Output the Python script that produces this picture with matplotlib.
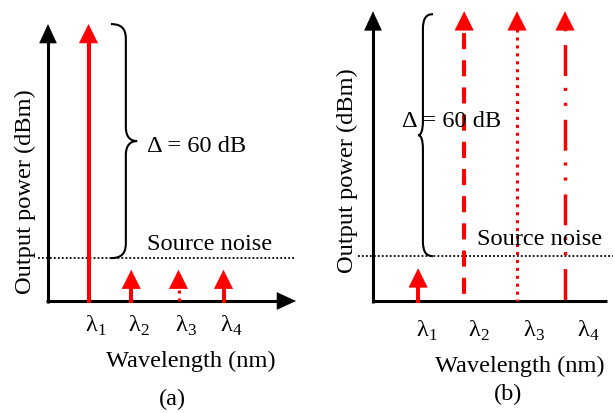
import matplotlib
matplotlib.use('Agg')
import matplotlib.pyplot as plt
from matplotlib.path import Path
from matplotlib.patches import PathPatch

plt.rcParams['font.family'] = 'Liberation Serif'
plt.rcParams['mathtext.fontset'] = 'custom'
plt.rcParams['mathtext.rm'] = 'Liberation Serif'

##################################################################
# Data: channel positions (slot units) and power levels (dB above baseline)

channel_labels = ['λ$_\\mathrm{1}$', 'λ$_\\mathrm{2}$', 'λ$_\\mathrm{3}$', 'λ$_\\mathrm{4}$']
a_wavelength = [0.9, 1.85, 2.9, 3.9]
a_power = [71, 8, 8, 8]
b_wavelength = [0.94, 1.9, 3.0, 4.0]
b_power = [8, 71, 71, 71]
noise_level = 11
peak_level = 71
delta_text = 'Δ = 60 dB'

# line styles of the channel stems
a_styles = ['-', '-', (0, (1, 1.6)), '-']
a_widths = [2.9, 2.9, 2.2, 2.9]
b_styles = ['-', (5.75, (4, 2.75)), (0, (1, 1.6)),
            (17, (8.9, 3.4, 0.9, 3.4, 0.9, 4.0))]
b_widths = [2.9, 2.9, 2.2, 2.5]

W, H, DPI = 613, 414, 100
FS = 17.6
RED = '#ff0000'
HEAD_PX = 18

fig = plt.figure(figsize=(W / DPI, H / DPI), dpi=DPI)


def panel_axes(x0_px, y0_px, px_per_x, px_per_db):
    # axes covering the whole figure, origin of the panel at (x0_px, y0_px)
    ax = fig.add_axes([0, 0, 1, 1])
    ax.set_xlim(-x0_px / px_per_x, (W - x0_px) / px_per_x)
    ax.set_ylim((y0_px - H) / px_per_db, y0_px / px_per_db)
    ax.set_facecolor('none')
    ax.axis('off')
    return ax


def head(ax, tail, tip, color, hw=0.65):
    ax.annotate('', xy=tip, xytext=tail,
                arrowprops=dict(arrowstyle=f'-|>,head_length=1.3,head_width={hw}',
                                mutation_scale=10, color=color, lw=0.5,
                                shrinkA=0, shrinkB=0))


def brace(ax, x_end, x_mid, x_tip, y_bot, y_top, r, rt):
    y_mid = (y_bot + y_top) / 2
    dx = x_mid - x_end
    dt = x_tip - x_mid
    verts = [(x_end, y_top),
             (x_end + 0.7 * dx, y_top), (x_mid, y_top - 0.3 * r), (x_mid, y_top - r),
             (x_mid, y_mid + rt),
             (x_mid, y_mid + 0.3 * rt), (x_mid + 0.4 * dt, y_mid), (x_tip, y_mid),
             (x_mid + 0.4 * dt, y_mid), (x_mid, y_mid - 0.3 * rt), (x_mid, y_mid - rt),
             (x_mid, y_bot + r),
             (x_mid, y_bot + 0.3 * r), (x_end + 0.7 * dx, y_bot), (x_end, y_bot)]
    codes = ([Path.MOVETO] + [Path.CURVE4] * 3 + [Path.LINETO] + [Path.CURVE4] * 6
             + [Path.LINETO] + [Path.CURVE4] * 3)
    ax.add_patch(PathPatch(Path(verts, codes), fill=False, lw=1.5, color='black'))


def draw_panel(ax, wl, power, styles, widths, px_per_x, px_per_db, x_tip,
               noise_x, from_top):
    hl_y = HEAD_PX / px_per_db
    hl_x = HEAD_PX / px_per_x
    # axes with arrow heads
    ax.plot([0, 0], [-1.5 / px_per_db, peak_level - hl_y], color='black', lw=2.2,
            solid_capstyle='butt')
    head(ax, (0, peak_level - hl_y), (0, peak_level), 'black', hw=0.6)
    ax.plot([-1.5 / px_per_x, x_tip - hl_x], [0, 0], color='black', lw=2.2,
            solid_capstyle='butt')
    head(ax, (x_tip - hl_x, 0), (x_tip, 0), 'black', hw=0.6)
    # source noise floor
    ax.plot(noise_x, [noise_level, noise_level], color='black', lw=1.3,
            linestyle=(0, (1, 1.2)))
    # channels
    for x, p, ls, lw, top in zip(wl, power, styles, widths, from_top):
        ys = [p - hl_y, 0] if top else [0, p - hl_y]
        ax.plot([x, x], ys, color=RED, lw=lw, linestyle=ls, dash_capstyle='butt')
        head(ax, (x, p - hl_y), (x, p), RED)


######################################################################
# Panel (a)

ax_a = panel_axes(48, 302, 45, 3.9)
draw_panel(ax_a, a_wavelength, a_power, a_styles, a_widths, 45, 3.9, 5.51,
           [-0.22, 5.51], [False] * 4)
brace(ax_a, 1.4, 1.73, 1.98, noise_level, peak_level, 3.85, 3.6)
ax_a.text(2.2, 38.5, delta_text, fontsize=FS, va='baseline')
ax_a.text(2.2, 13.3, 'Source noise', fontsize=FS, va='baseline')
for x, lab in zip(a_wavelength, channel_labels):
    ax_a.text(x - 0.07, -7.7, lab, fontsize=FS, va='baseline', ha='left')

######################################################################
# Panel (b)

ax_b = panel_axes(373, 302, 48, 4.08)
draw_panel(ax_b, b_wavelength, b_power, b_styles, b_widths, 48, 4.08, 5.25,
           [-0.31, 5.1], [False, True, True, True])
brace(ax_b, 1.25, 1.04, 0.94, noise_level, peak_level - 0.7, 3.7, 3.5)
ax_b.text(0.6, 42.9, delta_text, fontsize=FS, va='baseline')
ax_b.text(2.17, 14, 'Source noise', fontsize=FS, va='baseline')
for x, lab in zip([0.9, 1.98, 3.12, 4.25], channel_labels):
    ax_b.text(x, -8.6, lab, fontsize=FS, va='baseline', ha='left')

######################################################################
# Axis titles and panel captions

fig.text(0.312, 0.1135, 'Wavelength (nm)', fontsize=FS, ha='center', va='baseline')
fig.text(0.848, 0.1014, 'Wavelength (nm)', fontsize=FS, ha='center', va='baseline')
fig.text(0.041, 0.536, 'Output power (dBm)', fontsize=FS, rotation=90,
         ha='center', va='center')
fig.text(0.566, 0.587, 'Output power (dBm)', fontsize=FS, rotation=90,
         ha='center', va='center')
fig.text(0.282, 0.0217, '(a)', fontsize=FS, ha='center', va='baseline')
fig.text(0.829, 0.0338, '(b)', fontsize=FS, ha='center', va='baseline')

fig.savefig('out.png', dpi=DPI)
